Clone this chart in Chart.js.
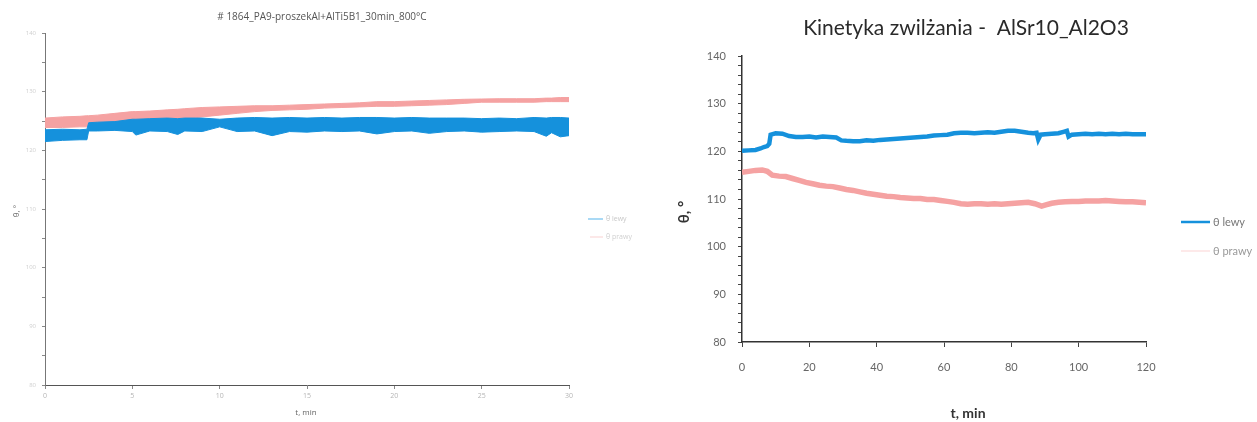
<!DOCTYPE html>
<html><head><meta charset="utf-8">
<script src="https://cdn.jsdelivr.net/npm/chart.js@4"></script>
<style>
html,body{margin:0;padding:0;background:#fff;width:1257px;height:422px;overflow:hidden}
canvas{position:absolute;top:0}
</style></head>
<body>
<canvas id="c1" width="660" height="422" style="left:0"></canvas>
<canvas id="c2" width="597" height="422" style="left:660px"></canvas>
<script>
// ---------- DATA ----------
const seriesNames = ['θ lewy', 'θ prawy'];
const titleL = '# 1864_PA9-proszekAl+AlTi5B1_30min_800°C';
const titleR = 'Kinetyka zwilżania -  AlSr10_Al2O3';
const xTitle = 't, min';
const yTitle = 'θ, °';
const xTicksL = [0, 5, 10, 15, 20, 25, 30];
const yTicksL = [80, 90, 100, 110, 120, 130, 140];
const xTicksR = [0, 20, 40, 60, 80, 100, 120];
const yTicksR = [80, 90, 100, 110, 120, 130, 140];

// left chart: noisy bands (upper / lower edge of each trace)
const tL =        [0,1,2,2.4,2.5,3,4,5,5.2,6,7,7.6,8,9,10,11,12,13,14,15,16,17,18,19,20,21,22,23,24,25,26,27,28,28.7,29,29.5,30];
const blueTopL =  [123.5,123.6,123.5,123.6,124.7,124.8,124.9,125.3,125.3,125.4,125.5,125.4,125.5,125.5,125.3,125.5,125.6,125.5,125.6,125.5,125.6,125.5,125.6,125.6,125.5,125.6,125.5,125.5,125.5,125.4,125.5,125.4,125.6,125.5,125.6,125.6,125.5];
const blueBotL =  [121.5,121.7,121.8,121.8,123.3,123.3,123.4,123.2,122.6,123.3,123.2,122.7,123.3,123.2,124.0,123.2,123.3,122.5,123.2,123.1,123.3,123.2,123.3,122.8,123.2,123.3,122.9,123.2,123.3,123.1,123.2,123.3,123.2,122.4,123.0,122.3,122.5];
const pinkTopL =  [125.5,125.7,125.8,125.9,125.9,126.0,126.3,126.6,126.6,126.7,126.9,127.0,127.1,127.3,127.4,127.5,127.6,127.6,127.7,127.8,127.9,128.0,128.1,128.3,128.3,128.4,128.5,128.6,128.7,128.75,128.8,128.8,128.8,128.9,128.9,129.0,129.0];
const pinkBotL =  [123.9,123.9,124.0,124.0,124.0,124.2,124.6,124.9,124.9,125.0,125.2,125.3,125.3,125.7,126.0,126.3,126.6,126.8,126.9,127.0,127.2,127.3,127.4,127.5,127.5,127.6,127.7,127.8,128.0,128.2,128.2,128.2,128.2,128.3,128.3,128.3,128.3];

// right chart
const tBlueR = [0,2,4,5.5,6.5,7.5,8.1,8.5,10,12,14,16,18,20,22,24,26,28,29.5,31,33,35,37,39,41,43,45,47,49,51,53,55,57,59,61,63,65,67,69,71,73,75,77,79,81,83,85,86.5,87.5,88,88.7,90,92,94,95.5,96.5,97,98,100,102,104,106,108,110,112,114,116,118,120];
const vBlueR = [120.1,120.2,120.3,120.6,120.9,121.1,121.6,123.5,123.8,123.7,123.2,123.0,123.0,123.1,122.9,123.1,123.0,122.9,122.3,122.2,122.1,122.1,122.3,122.2,122.4,122.5,122.6,122.7,122.8,122.9,123.0,123.1,123.3,123.4,123.5,123.8,123.9,123.9,123.8,123.9,124.0,123.9,124.1,124.3,124.3,124.1,123.9,123.8,123.9,122.5,123.5,123.6,123.7,123.8,124.1,124.3,123.1,123.5,123.6,123.7,123.6,123.7,123.6,123.7,123.6,123.7,123.6,123.6,123.6];
const tPinkR = [0,2,4,6,7.5,9,11,13,15,17,19,21,23,25,27,29,31,33,35,37,39,41,43,45,47,49,51,53,55,57,59,61,63,65,67,69,71,73,75,77,79,81,83,85,87,89,90.5,92,94,96,98,100,102,104,106,108,110,112,114,116,118,120];
const vPinkR = [115.6,115.8,116.0,116.1,115.8,115.0,114.8,114.7,114.3,113.9,113.5,113.2,112.9,112.7,112.6,112.3,112.0,111.8,111.5,111.2,111.0,110.8,110.6,110.5,110.3,110.2,110.1,110.1,109.9,109.9,109.7,109.5,109.3,109.0,108.9,109.0,109.0,108.9,109.0,108.9,109.0,109.1,109.2,109.3,109.0,108.5,108.8,109.1,109.3,109.4,109.5,109.5,109.6,109.6,109.6,109.7,109.6,109.5,109.4,109.4,109.3,109.2];

const BLUE = '#1591dc';
const PINK = '#f5a2a2';

// ---------- HELPERS ----------
const pts = (xs, ys) => xs.map((x, i) => ({x, y: ys[i]}));

const textPlugin = {
  id: 'annot',
  afterDraw(chart, args, o) {
    const ctx = chart.ctx;
    ctx.save();
    (o.texts || []).forEach(t => {
      ctx.save();
      ctx.font = t.font;
      ctx.fillStyle = t.color;
      ctx.textAlign = t.align || 'center';
      ctx.textBaseline = 'middle';
      ctx.translate(t.x, t.y);
      if (t.rot) ctx.rotate(t.rot);
      ctx.fillText(t.text, 0, 0);
      ctx.restore();
    });
    (o.legend || []).forEach(l => {
      ctx.strokeStyle = l.lineColor;
      ctx.lineWidth = l.lw;
      ctx.beginPath(); ctx.moveTo(l.x1, l.y); ctx.lineTo(l.x2, l.y); ctx.stroke();
      ctx.font = l.font; ctx.fillStyle = l.color;
      ctx.textAlign = 'left'; ctx.textBaseline = 'middle';
      ctx.fillText(l.text, l.x2 + 3, l.y);
    });
    ctx.restore();
  }
};

// ---------- LEFT CHART ----------
new Chart(document.getElementById('c1'), {
  type: 'line',
  data: {
    datasets: [
      {label: seriesNames[0] + ' dół', data: pts(tL, blueBotL), borderColor: BLUE, borderWidth: 1, pointRadius: 0, fill: false, tension: 0},
      {label: seriesNames[0], data: pts(tL, blueTopL), borderColor: BLUE, borderWidth: 1, pointRadius: 0, fill: '-1', backgroundColor: BLUE, tension: 0},
      {label: seriesNames[1] + ' dół', data: pts(tL, pinkBotL), borderColor: PINK, borderWidth: 1, pointRadius: 0, fill: false, tension: 0},
      {label: seriesNames[1], data: pts(tL, pinkTopL), borderColor: PINK, borderWidth: 1, pointRadius: 0, fill: '-1', backgroundColor: PINK, tension: 0}
    ]
  },
  options: {
    responsive: false, animation: false, devicePixelRatio: 1,
    layout: {padding: {top: 33, right: 91, bottom: 0, left: 0}},
    plugins: {
      legend: {display: false}, tooltip: {enabled: false}, title: {display: false},
      annot: {
        texts: [
          {text: titleL, x: 322, y: 17, font: '10px "Open Sans"', color: '#555'},
          {text: xTitle, x: 306, y: 413, font: '8px "Open Sans"', color: '#666'},
          {text: yTitle, x: 17, y: 211, font: '8px "Open Sans"', color: '#666', rot: -Math.PI / 2}
        ],
        legend: [
          {text: seriesNames[0], x1: 588, x2: 603, y: 219, lw: 1.5, lineColor: '#8ccdf2', font: '7px "Open Sans"', color: '#c8c8c8'},
          {text: seriesNames[1], x1: 590, x2: 603, y: 237, lw: 1.5, lineColor: '#fbe0e0', font: '7px "Open Sans"', color: '#d0d0d0'}
        ]
      }
    },
    scales: {
      x: {
        type: 'linear', min: xTicksL[0], max: xTicksL[xTicksL.length - 1],
        afterBuildTicks: s => { s.ticks = xTicksL.map(v => ({value: v})); },
        afterFit: s => { s.height = 37; },
        ticks: {font: {size: 7, family: 'Open Sans'}, color: '#b5b5b5', padding: 3, maxRotation: 0, autoSkip: false},
        grid: {drawOnChartArea: false, drawTicks: true, tickLength: 4, color: '#888'},
        border: {color: '#555', width: 1}
      },
      y: {
        min: yTicksL[0], max: yTicksL[yTicksL.length - 1],
        afterBuildTicks: s => {
          const t = [];
          for (let i = 0; i < yTicksL.length; i++) {
            t.push({value: yTicksL[i]});
            if (i < yTicksL.length - 1) t.push({value: (yTicksL[i] + yTicksL[i + 1]) / 2});
          }
          s.ticks = t;
        },
        afterFit: s => { s.width = 45; },
        ticks: {font: {size: 6, family: 'Open Sans'}, color: '#cfcfcf', padding: 6, autoSkip: false,
          callback: v => (yTicksL.includes(v) ? String(v) : '')},
        grid: {drawOnChartArea: false, drawTicks: true, tickLength: 3, color: '#888'},
        border: {color: '#777', width: 1}
      }
    }
  },
  plugins: [textPlugin]
});

// ---------- RIGHT CHART ----------
const minorR = [];
for (let v = yTicksR[0]; v <= yTicksR[yTicksR.length - 1]; v += 2) minorR.push(v);

new Chart(document.getElementById('c2'), {
  type: 'line',
  data: {
    datasets: [
      {label: seriesNames[0], data: pts(tBlueR, vBlueR), borderColor: BLUE, borderWidth: 4.5, pointRadius: 0, fill: false, tension: 0},
      {label: seriesNames[1], data: pts(tPinkR, vPinkR), borderColor: PINK, borderWidth: 5.5, pointRadius: 0, fill: false, tension: 0}
    ]
  },
  options: {
    responsive: false, animation: false, devicePixelRatio: 1,
    layout: {padding: {top: 56, right: 111, bottom: 0, left: 0}},
    plugins: {
      legend: {display: false}, tooltip: {enabled: false}, title: {display: false},
      annot: {
        texts: [
          {text: titleR, x: 306, y: 28, font: '21px Lato', color: '#2a2a2a'},
          {text: xTitle, x: 308, y: 413, font: 'bold 14px Lato', color: '#333'},
          {text: yTitle, x: 24, y: 212, font: 'bold 15px Lato', color: '#333', rot: -Math.PI / 2}
        ],
        legend: [
          {text: seriesNames[0], x1: 521, x2: 550, y: 222, lw: 2.5, lineColor: BLUE, font: '11px Lato', color: '#777'},
          {text: seriesNames[1], x1: 521, x2: 550, y: 251, lw: 2, lineColor: '#fde9e9', font: '11px Lato', color: '#999'}
        ]
      }
    },
    scales: {
      x: {
        type: 'linear', min: xTicksR[0], max: xTicksR[xTicksR.length - 1],
        afterBuildTicks: s => { s.ticks = xTicksR.map(v => ({value: v})); },
        afterFit: s => { s.height = 80; },
        ticks: {font: {size: 11, family: 'Lato'}, color: '#666', padding: 14, maxRotation: 0, autoSkip: false},
        grid: {drawOnChartArea: false, drawTicks: true, tickLength: 5, color: '#444'},
        border: {color: '#333', width: 1.5}
      },
      y: {
        min: yTicksR[0], max: yTicksR[yTicksR.length - 1],
        afterBuildTicks: s => { s.ticks = minorR.map(v => ({value: v})); },
        afterFit: s => { s.width = 82; },
        ticks: {font: {size: 11, family: 'Lato'}, color: '#666', padding: 12, autoSkip: false,
          callback: v => (yTicksR.includes(v) ? String(v) : '')},
        grid: {drawOnChartArea: false, drawTicks: true, tickLength: 4, color: '#444'},
        border: {color: '#333', width: 1.5}
      }
    }
  },
  plugins: [textPlugin]
});
</script>
</body></html>
